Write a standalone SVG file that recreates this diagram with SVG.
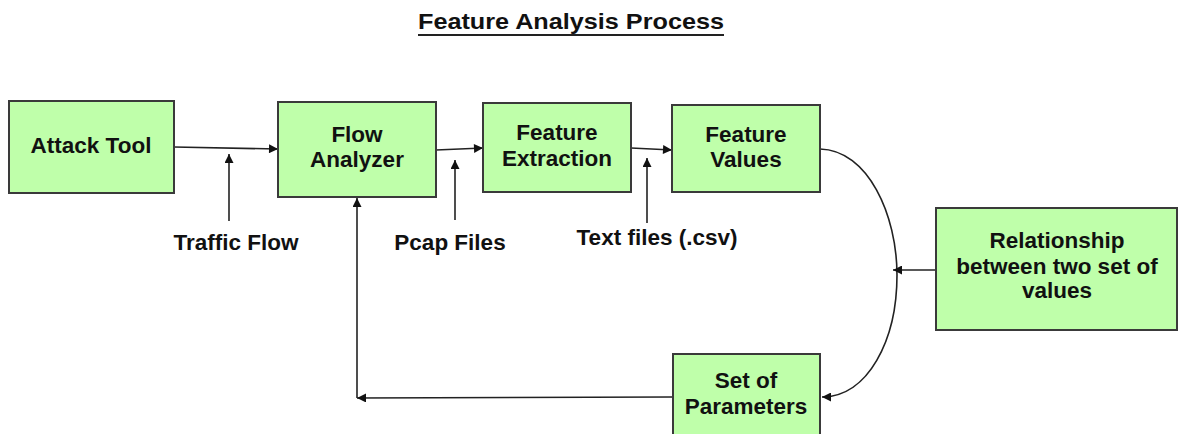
<svg xmlns="http://www.w3.org/2000/svg" width="1179" height="434" viewBox="0 0 1179 434">
<defs>
<style>
.node rect{fill:#bfffaa;stroke:#3a3a3a;stroke-width:2}
.node text,.lbl{font-family:"Liberation Sans",Arial,sans-serif;font-weight:bold;font-size:22.5px;fill:#111;text-anchor:middle}
.conn path{fill:none;stroke:#222;stroke-width:1.6}
</style>
<marker id="ah" viewBox="0 0 10 10" refX="10" refY="5" markerWidth="11" markerHeight="9" markerUnits="userSpaceOnUse" orient="auto">
<path d="M0,0 L10,5 L0,10 z" fill="#111"/>
</marker>
</defs>
<rect width="1179" height="434" fill="#fff"/>
<g id="title">
<text x="571" y="29" font-family="Liberation Sans,Arial,sans-serif" font-weight="bold" font-size="22" text-anchor="middle" textLength="306" lengthAdjust="spacingAndGlyphs" fill="#111">Feature Analysis Process</text>
<line x1="418" y1="35" x2="724" y2="35" stroke="#222" stroke-width="2"/>
</g>
<g id="connectors" class="conn">
<path d="M174,147 L278,149" marker-end="url(#ah)"/>
<path d="M229,221 L229,154" marker-end="url(#ah)"/>
<path d="M436,150 L483,148" marker-end="url(#ah)"/>
<path d="M455,220 L455,160" marker-end="url(#ah)"/>
<path d="M631,148 L672,150" marker-end="url(#ah)"/>
<path d="M647,223 L647,158" marker-end="url(#ah)"/>
<path d="M820,149 C868,150 897,215 897,275 C897,340 868,397 822,397" marker-end="url(#ah)"/>
<path d="M936,270 L893,270" marker-end="url(#ah)"/>
<path d="M673,397 L357,398" marker-end="url(#ah)"/>
<path d="M357,398 L357,198" marker-end="url(#ah)"/>
</g>
<g id="attack-tool" class="node">
<rect x="9" y="101" width="165" height="92"/>
<text x="91" y="153">Attack Tool</text>
</g>
<g id="flow-analyzer" class="node">
<rect x="278" y="102" width="158" height="95"/>
<text x="357" y="142">Flow</text>
<text x="357" y="167">Analyzer</text>
</g>
<g id="feature-extraction" class="node">
<rect x="483" y="103" width="148" height="89"/>
<text x="557" y="140">Feature</text>
<text x="557" y="166">Extraction</text>
</g>
<g id="feature-values" class="node">
<rect x="672" y="105" width="148" height="87"/>
<text x="746" y="142">Feature</text>
<text x="746" y="167">Values</text>
</g>
<g id="relationship" class="node">
<rect x="936" y="208" width="241" height="122"/>
<text x="1057" y="248">Relationship</text>
<text x="1057" y="274">between two set of</text>
<text x="1057" y="298">values</text>
</g>
<g id="set-of-parameters" class="node">
<rect x="673" y="354" width="147" height="90"/>
<text x="746" y="388">Set of</text>
<text x="746" y="414">Parameters</text>
</g>
<g id="labels">
<text class="lbl" x="236" y="250">Traffic Flow</text>
<text class="lbl" x="450" y="250">Pcap Files</text>
<text class="lbl" x="657" y="245">Text files (.csv)</text>
</g>
</svg>
